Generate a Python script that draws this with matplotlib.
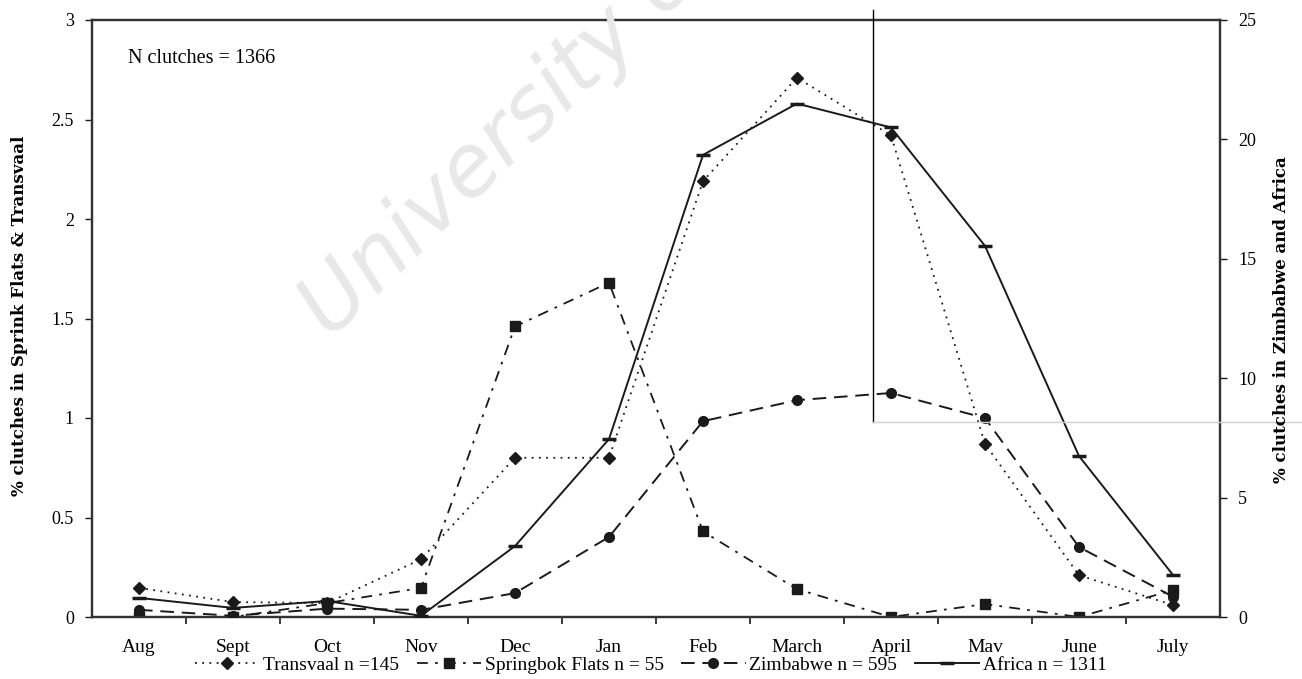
import numpy as np
import matplotlib
matplotlib.use("Agg")
from matplotlib import pyplot as plt
from matplotlib.lines import Line2D

plt.rcParams['font.family'] = ['Liberation Serif', 'DejaVu Serif']

months = ['Aug', 'Sept', 'Oct', 'Nov', 'Dec', 'Jan', 'Feb', 'March', 'April', 'Mav', 'June', 'July']

# left axis (%)
transvaal = [0.146, 0.075, 0.07, 0.29, 0.80, 0.80, 2.19, 2.71, 2.42, 0.87, 0.21, 0.06]
springbok = [0.0, 0.0, 0.07, 0.146, 1.46, 1.68, 0.43, 0.14, 0.0, 0.065, 0.0, 0.135]
# right axis (%)
zimbabwe = [0.3, 0.05, 0.35, 0.3, 1.0, 3.35, 8.2, 9.08, 9.38, 8.33, 2.93, 0.85]
africa = [0.8, 0.38, 0.67, 0.05, 2.97, 7.45, 19.35, 21.5, 20.5, 15.54, 6.74, 1.76]

labels = ['Transvaal n =145', 'Springbok Flats n = 55', 'Zimbabwe n = 595', 'Africa n = 1311']

ink = '#1a1a1a'
x = np.arange(len(months))

fig = plt.figure(figsize=(13.02, 6.79), dpi=100)
ax = fig.add_axes([92/1302, 1-617/679, 1128/1302, 597/679])
ax2 = ax.twinx()

# watermark
fig.text(330/1302, 1-340/679, 'University of Cape Town', fontsize=62, color='#e8e8e8',
         rotation=44, ha='left', va='baseline', rotation_mode='anchor',
         family='DejaVu Sans', style='italic', zorder=0)

l1, = ax.plot(x, transvaal, ls=(0, (1, 3)), lw=1.3, color=ink, marker='D', ms=6, zorder=3)
l2, = ax.plot(x, springbok, ls=(0, (6, 4, 1.5, 4)), lw=1.3, color=ink, marker='s', ms=7, zorder=3)
l3, = ax2.plot(x, zimbabwe, ls=(0, (7, 4)), lw=1.4, color=ink, marker='o', ms=7, zorder=3)
l4, = ax2.plot(x, africa, ls='-', lw=1.4, color=ink, marker='_', ms=10, mew=2.5, zorder=3)

ax.set_xlim(-0.5, 11.5)
ax.set_ylim(0, 3)
ax2.set_ylim(0, 25)
ax.patch.set_visible(False)

ax.set_yticks(np.arange(0, 3.01, 0.5))
ax.set_yticklabels(['0', '0.5', '1', '1.5', '2', '2.5', '3'])
ax2.set_yticks(np.arange(0, 26, 5))

ax.set_xticks(x)
ax.set_xticklabels(months)
ax.set_xticks(np.arange(0.5, 11, 1), minor=True)
ax.tick_params(axis='x', which='major', length=0, pad=16, labelsize=14)
ax.tick_params(axis='x', which='minor', length=5, width=1.2, direction='out', color=ink)
ax.tick_params(axis='y', length=5, width=1.0, labelsize=13, pad=8, color=ink)
ax2.tick_params(axis='y', length=5, width=1.0, labelsize=13, pad=8, color=ink)

for a in (ax, ax2):
    for s in a.spines.values():
        s.set_linewidth(1.6)
        s.set_color('#333333')

# axis titles
fig.text(20/1302, 1-316/679, '% clutches in Sprink Flats & Transvaal', rotation=90,
         ha='center', va='center', fontsize=12, fontweight='bold', family='DejaVu Serif')
fig.text(1281/1302, 1-320/679, '% clutches in Zimbabwe and Africa', rotation=90,
         ha='center', va='center', fontsize=12, fontweight='bold', family='DejaVu Serif')

ax.text(0.032, 0.928, 'N clutches = 1366', transform=ax.transAxes, fontsize=14.5)

fig.legend([l1, l2, l3, l4], labels, loc='center', bbox_to_anchor=(0.5, 1-665/679),
           ncol=4, frameon=False, fontsize=14, handlelength=3.3, handletextpad=0.2,
           columnspacing=0.9, borderpad=0)

# stray scan marks
fig.add_artist(Line2D([873/1302, 873/1302], [1-10/679, 1-422/679], color='black', lw=1.0))
fig.add_artist(Line2D([873/1302, 1.0], [1-422/679, 1-422/679], color='#d0d0d0', lw=1.0))

fig.savefig('out.png', dpi=100)
